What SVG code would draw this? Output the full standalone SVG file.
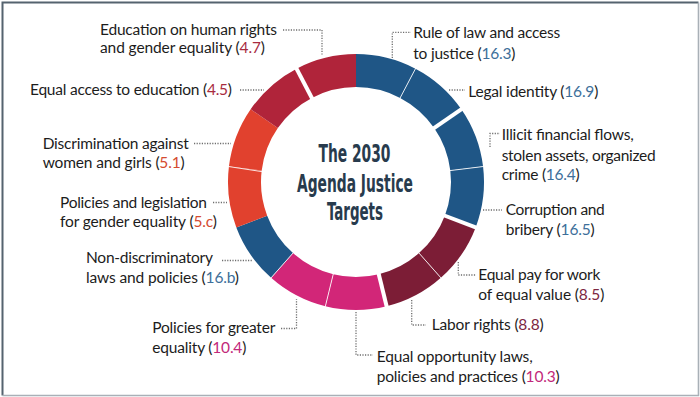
<svg xmlns="http://www.w3.org/2000/svg" width="700" height="397" viewBox="0 0 700 397">
<style>
.lbl{font-family:Lato,"Liberation Sans",sans-serif;font-size:15.5px;fill:#1c1c1c}
.title{font-family:"Liberation Sans Narrow","DejaVu Sans Condensed",sans-serif;font-size:25.5px;fill:#283b4d;text-anchor:middle;font-weight:700}
.lead{fill:none;stroke:#6e6e6e;stroke-width:1.3;stroke-dasharray:1.2 1.4}
.blue{fill:#1f5686}.maroon{fill:#7c1d36}.mag{fill:#d22678}.orange{fill:#e1412e}.red{fill:#b0243a}
.nb{fill:#3d6f9a}.nm{fill:#7d2742}.ng{fill:#c2287a}.no{fill:#d54b30}.nr{fill:#a82b3f}
.thin{stroke:#ffffff;stroke-width:1;opacity:0.85}
.thick{stroke:#ffffff;stroke-width:4}
</style>
<rect x="0" y="0" width="700" height="397" fill="#ffffff"/>
<path d="M2.5,395.5 V2.5 H698.5" fill="none" stroke="#55636f" stroke-width="2"/>
<path d="M698.5,2.5 V395.5 H2.5" fill="none" stroke="#a9b0b7" stroke-width="1.6"/>

<g id="title">
<text class="title" x="354.5" y="161.7" textLength="72" lengthAdjust="spacingAndGlyphs">The 2030</text>
<text class="title" x="355" y="191.7" textLength="116" lengthAdjust="spacingAndGlyphs">Agenda Justice</text>
<text class="title" x="355" y="220" textLength="56" lengthAdjust="spacingAndGlyphs">Targets</text>
</g>

<g id="t16-3">
<path class="blue" d="M356,54 A128,128 0 0 1 415.48,68.66 L400.15,97.88 A95,95 0 0 0 356,87 Z"/>
<text class="lbl" x="413.3" y="38.3" textLength="147">Rule of law and access</text>
<text class="lbl" x="413.3" y="59" textLength="102">to justice (<tspan class="nb">16.3</tspan>)</text>
</g>
<g id="t16-9">
<path class="blue" d="M415.48,68.66 A128,128 0 0 1 461.34,109.29 L434.18,128.03 A95,95 0 0 0 400.15,97.88 Z"/>
<text class="lbl" x="468.3" y="96.7" textLength="130">Legal identity (<tspan class="nb">16.9</tspan>)</text>
</g>
<g id="t16-4">
<path class="blue" d="M461.34,109.29 A128,128 0 0 1 483.07,166.57 L450.31,170.55 A95,95 0 0 0 434.18,128.03 Z"/>
<text class="lbl" x="501.7" y="140" textLength="132">Illicit financial flows,</text>
<text class="lbl" x="501.7" y="160.7" textLength="154">stolen assets, organized</text>
<text class="lbl" x="501.7" y="180" textLength="78">crime (<tspan class="nb">16.4</tspan>)</text>
</g>
<g id="t16-5">
<path class="blue" d="M483.07,166.57 A128,128 0 0 1 475.68,227.39 L444.83,215.69 A95,95 0 0 0 450.31,170.55 Z"/>
<text class="lbl" x="505.7" y="215" textLength="99">Corruption and</text>
<text class="lbl" x="505.7" y="235" textLength="89">bribery (<tspan class="nb">16.5</tspan>)</text>
</g>
<g id="t8-5">
<path class="maroon" d="M475.68,227.39 A128,128 0 0 1 440.88,277.81 L419,253.11 A95,95 0 0 0 444.83,215.69 Z"/>
<text class="lbl" x="478.3" y="280" textLength="122">Equal pay for work</text>
<text class="lbl" x="478.3" y="300" textLength="126">of equal value (<tspan class="nm">8.5</tspan>)</text>
</g>
<g id="t8-8">
<path class="maroon" d="M440.88,277.81 A128,128 0 0 1 386.63,306.28 L378.74,274.24 A95,95 0 0 0 419,253.11 Z"/>
<text class="lbl" x="431.7" y="330" textLength="112">Labor rights (<tspan class="nm">8.8</tspan>)</text>
</g>
<g id="t10-3">
<path class="mag" d="M386.63,306.28 A128,128 0 0 1 325.37,306.28 L333.26,274.24 A95,95 0 0 0 378.74,274.24 Z"/>
<text class="lbl" x="376.7" y="361.7" textLength="156">Equal opportunity laws,</text>
<text class="lbl" x="376.7" y="381.7" textLength="183">policies and practices (<tspan class="ng">10.3</tspan>)</text>
</g>
<g id="t10-4">
<path class="mag" d="M325.37,306.28 A128,128 0 0 1 271.12,277.81 L293,253.11 A95,95 0 0 0 333.26,274.24 Z"/>
<text class="lbl" x="152.3" y="333.3" textLength="123">Policies for greater</text>
<text class="lbl" x="152.3" y="352.7" textLength="94">equality (<tspan class="ng">10.4</tspan>)</text>
</g>
<g id="t16-b">
<path class="blue" d="M271.12,277.81 A128,128 0 0 1 236.32,227.39 L267.17,215.69 A95,95 0 0 0 293,253.11 Z"/>
<text class="lbl" x="86" y="263.3" textLength="127">Non-discriminatory</text>
<text class="lbl" x="86" y="282.7" textLength="153">laws and policies (<tspan class="nb">16.b</tspan>)</text>
</g>
<g id="t5-c">
<path class="orange" d="M236.32,227.39 A128,128 0 0 1 228.93,166.57 L261.69,170.55 A95,95 0 0 0 267.17,215.69 Z"/>
<text class="lbl" x="60" y="207.5" textLength="147">Policies and legislation</text>
<text class="lbl" x="60" y="226.7" textLength="157">for gender equality (<tspan class="no">5.c</tspan>)</text>
</g>
<g id="t5-1">
<path class="orange" d="M228.93,166.57 A128,128 0 0 1 250.66,109.29 L277.82,128.03 A95,95 0 0 0 261.69,170.55 Z"/>
<text class="lbl" x="42.7" y="149" textLength="146">Discrimination against</text>
<text class="lbl" x="42.7" y="168.3" textLength="142">women and girls (<tspan class="no">5.1</tspan>)</text>
</g>
<g id="t4-5">
<path class="red" d="M250.66,109.29 A128,128 0 0 1 296.52,68.66 L311.85,97.88 A95,95 0 0 0 277.82,128.03 Z"/>
<text class="lbl" x="30" y="95" textLength="202">Equal access to education (<tspan class="nr">4.5</tspan>)</text>
</g>
<g id="t4-7">
<path class="red" d="M296.52,68.66 A128,128 0 0 1 356,54 L356,87 A95,95 0 0 0 311.85,97.88 Z"/>
<text class="lbl" x="100" y="35" textLength="177">Education on human rights</text>
<text class="lbl" x="100" y="53.3" textLength="165">and gender equality (<tspan class="nr">4.7</tspan>)</text>
</g>

<g id="ring-dividers">
<line class="thin" x1="399.2" y1="99.7" x2="416.4" y2="66.9"/>
<line class="thick" x1="432.5" y1="129.2" x2="463" y2="108.1"/>
<line class="thin" x1="448.3" y1="170.8" x2="485" y2="166.3"/>
<line class="thick" x1="443" y1="215" x2="477.6" y2="228.1"/>
<line class="thin" x1="417.7" y1="251.6" x2="442.2" y2="279.3"/>
<line class="thick" x1="378.3" y1="272.3" x2="387.1" y2="308.2"/>
<line class="thin" x1="333.7" y1="272.3" x2="324.9" y2="308.2"/>
<line class="thin" x1="294.3" y1="251.6" x2="269.8" y2="279.3" opacity="0.4"/>
<line class="thin" x1="263.1" y1="171.8" x2="227" y2="166.3"/>
<line class="thick" x1="312.8" y1="99.7" x2="295.6" y2="66.9"/>
</g>

<g id="connectors">
<path class="lead" d="M283,30 H322 V55"/>
<path class="lead" d="M240,90 H264"/>
<path class="lead" d="M194,143.5 H231"/>
<path class="lead" d="M213,202.5 H227"/>
<path class="lead" d="M222,260.5 H252"/>
<path class="lead" d="M281,328.5 H296.5 V299"/>
<path class="lead" d="M356,312 V355 H373"/>
<path class="lead" d="M411.7,300 V325 H426"/>
<path class="lead" d="M458.3,262 V275 H476"/>
<path class="lead" d="M483,210 H502"/>
<path class="lead" d="M490,147 V133.5 H500"/>
<path class="lead" d="M449,90 H465"/>
<path class="lead" d="M392.3,58 V32.3 H411"/>
</g>
</svg>
